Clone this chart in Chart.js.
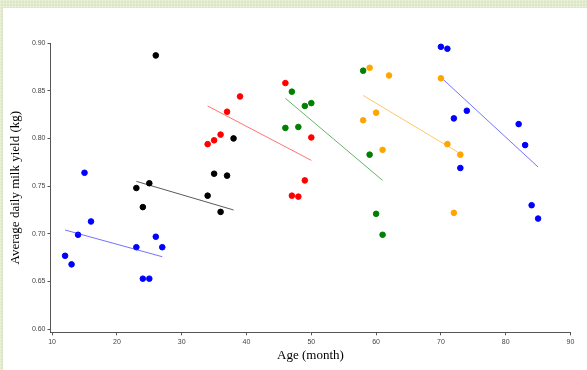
<!DOCTYPE html>
<html lang="en">
<head>
    <meta charset="UTF-8">
    <title>Average daily milk yield by age</title>
    <script src="https://cdn.jsdelivr.net/npm/chart.js"></script>
    <style>
        html, body {
            margin: 0;
            padding: 0;
            width: 587px;
            height: 370px;
            overflow: hidden;
            background-color: #dbe6c2;
            background-image:
                repeating-linear-gradient(90deg, rgba(255,255,255,0.3) 0 1px, transparent 1px 3px),
                repeating-linear-gradient(0deg, rgba(255,255,255,0.25) 0 1px, transparent 1px 3px);
        }
        .frame {
            position: absolute;
            left: 3px;
            top: 8px;
            width: 584px;
            height: 362px;
            background: #ffffff;
        }
    </style>
</head>
<body>

<div class="frame">
    <canvas id="milkChart" width="584" height="362"></canvas>
</div>

<script>
    // ages (months) and average daily milk yield (kg) for each group
    const ages1 = [12, 13, 14, 15, 16, 23, 24, 25, 26, 27];
    const yield1 = [0.677, 0.668, 0.699, 0.764, 0.713, 0.686, 0.653, 0.653, 0.697, 0.686];
    const fit1 = [[12, 0.704], [27, 0.676]];

    const ages2 = [23, 24, 25, 26, 34, 35, 36, 37, 38];
    const yield2 = [0.748, 0.728, 0.753, 0.887, 0.740, 0.763, 0.723, 0.761, 0.800];
    const fit2 = [[23, 0.755], [38, 0.725]];

    const ages3 = [34, 35, 36, 37, 39, 46, 47, 48, 49, 50];
    const yield3 = [0.794, 0.798, 0.804, 0.828, 0.844, 0.858, 0.740, 0.739, 0.756, 0.801];
    const fit3 = [[34, 0.834], [50, 0.777]];

    const ages4 = [46, 47, 48, 49, 50, 58, 59, 60, 61];
    const yield4 = [0.811, 0.849, 0.812, 0.834, 0.837, 0.871, 0.783, 0.721, 0.699];
    const fit4 = [[46, 0.842], [61, 0.756]];

    const ages5 = [58, 59, 60, 61, 62, 70, 71, 72, 73];
    const yield5 = [0.819, 0.874, 0.827, 0.788, 0.866, 0.863, 0.794, 0.722, 0.783];
    const fit5 = [[58, 0.845], [73, 0.784]];

    const ages6 = [70, 71, 72, 73, 74, 82, 83, 84, 85];
    const yield6 = [0.896, 0.894, 0.821, 0.769, 0.829, 0.815, 0.793, 0.730, 0.716];
    const fit6 = [[70, 0.864], [85, 0.770]];

    const xTicks = [10, 20, 30, 40, 50, 60, 70, 80, 90];
    const yTicks = [0.60, 0.65, 0.70, 0.75, 0.80, 0.85, 0.90];

    const groups = [
        { ages: ages1, values: yield1, fit: fit1, color: '#0000ff', lineColor: 'rgba(40,40,255,0.65)' },
        { ages: ages2, values: yield2, fit: fit2, color: '#000000', lineColor: 'rgba(0,0,0,0.65)' },
        { ages: ages3, values: yield3, fit: fit3, color: '#ff0000', lineColor: 'rgba(255,40,40,0.65)' },
        { ages: ages4, values: yield4, fit: fit4, color: '#008000', lineColor: 'rgba(0,128,0,0.6)' },
        { ages: ages5, values: yield5, fit: fit5, color: '#ffa500', lineColor: 'rgba(255,170,20,0.65)' },
        { ages: ages6, values: yield6, fit: fit6, color: '#0000ff', lineColor: 'rgba(40,40,255,0.65)' }
    ];

    const datasets = [];
    groups.forEach(function (g) {
        datasets.push({
            type: 'line',
            data: g.fit.map(p => ({ x: p[0], y: p[1] })),
            borderColor: g.lineColor,
            borderWidth: 1,
            pointRadius: 0,
            fill: false
        });
        datasets.push({
            type: 'scatter',
            data: g.ages.map((a, i) => ({ x: a, y: g.values[i] })),
            backgroundColor: g.color,
            borderColor: g.color,
            borderWidth: 1,
            pointRadius: 2.8
        });
    });

    const tickFont = { family: 'Liberation Sans, Arial, sans-serif', size: 7 };
    const titleFont = { family: 'Liberation Serif, Times New Roman, serif', size: 13 };

    new Chart(document.getElementById('milkChart').getContext('2d'), {
        data: { datasets: datasets },
        options: {
            responsive: false,
            animation: false,
            layout: { padding: { top: 35, right: 16.5, bottom: 0, left: 0 } },
            plugins: {
                legend: { display: false },
                tooltip: { enabled: false }
            },
            scales: {
                x: {
                    type: 'linear',
                    min: 9.75,
                    max: 90,
                    afterBuildTicks: function (scale) {
                        scale.ticks = xTicks.map(v => ({ value: v }));
                    },
                    afterFit: function (scale) { scale.height = 37.7; },
                    grid: { display: true, drawOnChartArea: false, tickLength: 3, tickColor: '#555' },
                    border: { display: true, color: '#555', width: 1 },
                    ticks: { font: tickFont, color: '#444', padding: 3, maxRotation: 0 },
                    title: { display: true, text: 'Age (month)', font: titleFont, color: '#000', padding: { top: 0, bottom: 7 } }
                },
                y: {
                    type: 'linear',
                    min: 0.5968,
                    max: 0.90,
                    afterBuildTicks: function (scale) {
                        scale.ticks = yTicks.map(v => ({ value: v }));
                    },
                    afterFit: function (scale) { scale.width = 47.5; },
                    grid: { display: true, drawOnChartArea: false, tickLength: 3, tickColor: '#555' },
                    border: { display: true, color: '#555', width: 1 },
                    ticks: {
                        font: tickFont, color: '#444', padding: 2,
                        callback: function (v) { return v.toFixed(2); }
                    },
                    title: { display: true, text: 'Average daily milk yield (kg)', font: titleFont, color: '#000', padding: { top: 5, bottom: 0 } }
                }
            }
        }
    });
</script>

</body>
</html>
